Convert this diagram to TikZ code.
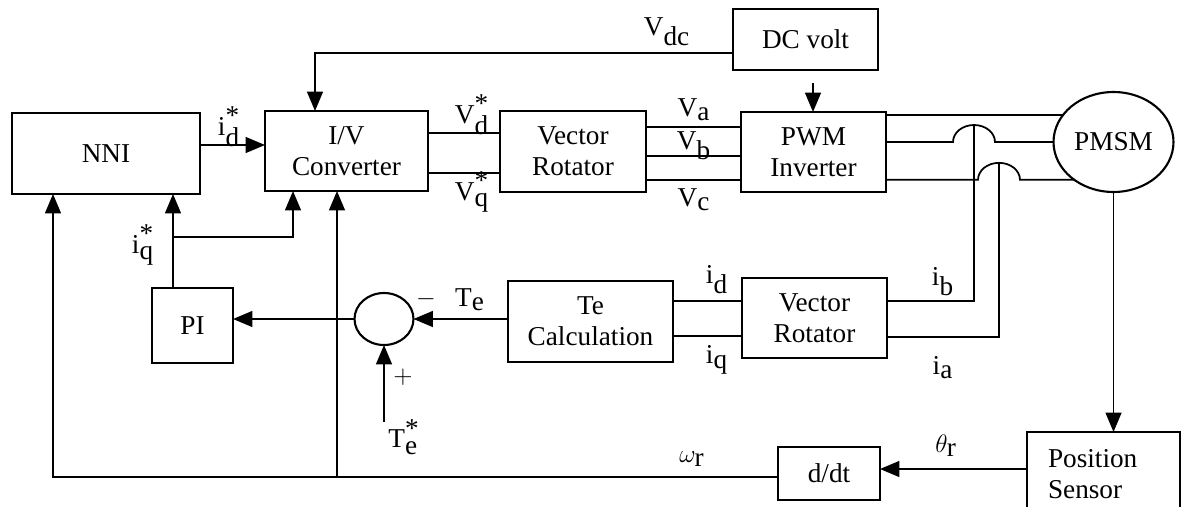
\documentclass[tikz,border=0pt]{standalone}
\usepackage{fontspec}
\setmainfont{Liberation Serif}
\usetikzlibrary{arrows.meta,shapes.geometric}
\newcommand{\starsig}[2]{$\textrm{#1}^{\textrm{*}}_{\textrm{#2}}$}
\newcommand{\plainsig}[2]{$\textrm{#1}_{\textrm{#2}}$}
\tikzset{>={Triangle[length=11pt,width=9pt]},
  block/.style={draw,line width=1.2pt,inner sep=0pt,outer sep=0pt,align=center},
  sig/.style={line width=1pt},
  lab/.style={inner sep=1pt}}

\begin{document}
\begin{tikzpicture}[x=0.02cm,y=-0.02cm,font=\fontsize{15.5}{17.5}\selectfont]
  \useasboundingbox (0,0) rectangle (1183,507);
  % blocks
  \node[block,minimum width=3.76cm,minimum height=1.62cm] (nni) at (106,153.5) {NNI};
  \node[block,minimum width=3.26cm,minimum height=1.6cm] (ivc) at (346.5,151) {I/V\\Converter};
  \node[block,minimum width=2.9cm,minimum height=1.22cm] (dcv) at (805.5,39.5) {DC volt};
  \node[block,minimum width=2.92cm,minimum height=1.62cm] (vrot) at (573,151.5) {Vector\\Rotator};
  \node[block,minimum width=2.9cm,minimum height=1.6cm] (pwm) at (813.5,152) {PWM\\Inverter};
  \node[block,ellipse,minimum width=2.4cm,minimum height=2cm] (pmsm) at (1113.5,142) {PMSM};
  \node[block,minimum width=2.9cm,minimum height=1.6cm] (crot) at (814.5,318) {Vector\\Rotator};
  \node[block,minimum width=3.3cm,minimum height=1.62cm] (tec) at (590.5,321.5) {Te\\Calculation};
  \node[block,ellipse,minimum width=1.18cm,minimum height=1.04cm] (sum) at (384,319) {};
  \node[block,minimum width=1.62cm,minimum height=1.5cm] (pi) at (192.5,325.5) {PI};
  \node[block,minimum width=2.04cm,minimum height=1.06cm] (ddt) at (829,473.5) {d/dt};
  \node[block,align=left,text width=2.22cm,minimum width=3.06cm,minimum height=1.68cm] (pos) at (1103.5,474) {Position\\Sensor};
  % forward path
  \draw[sig,->] (nni.east |- 0,145) -- (ivc.west |- 0,145);
  \draw[sig,->] (dcv.west |- 0,53) -| (315,0 |- ivc.north);
  \coordinate (dcin) at (813,83);
  \draw[sig,->] (dcin) -- (dcin |- pwm.north);
  \foreach \y in {133,173} \draw[sig] (ivc.east |- 0,\y) -- (vrot.west |- 0,\y);
  \foreach \y in {127,156,180} \draw[sig] (vrot.east |- 0,\y) -- (pwm.west |- 0,\y);
  % phases to the motor, with crossings
  \draw[sig] (pwm.east |- pmsm.152) -- (pmsm.152);
  \draw[sig] (pwm.east |- pmsm.west) -- (953,0 |- pmsm.west)
    arc[start angle=180,end angle=0,x radius=0.42cm,y radius=0.34cm] -- (pmsm.west);
  \draw[sig] (pwm.east |- pmsm.224) -- (978,0 |- pmsm.224)
    arc[start angle=180,end angle=0,x radius=0.42cm,y radius=0.34cm] -- (pmsm.224);
  \coordinate (bb) at (974,125);
  \coordinate (ba) at (999,163);
  \draw[sig] (bb) |- (crot.east |- 0,301);
  \draw[sig] (ba) |- (crot.east |- 0,337);
  % feedback
  \draw[sig,->] (pmsm.south) -- (pmsm.south |- pos.north);
  \draw[sig,->] (pos.west |- 0,469) -- (ddt.east |- 0,469);
  \draw[sig,->] (ddt.west |- 0,477) -| (53,0 |- nni.south);
  \coordinate (jw) at (337,477);
  \draw[sig,->] (jw) -- (jw |- ivc.south);
  \draw[sig,->] (pi.north -| 173,0) -- (173,0 |- nni.south);
  \coordinate (jq) at (173,237);
  \draw[sig,->] (jq) -| (293,0 |- ivc.south);
  \draw[sig,->] (sum.west) -- (sum.west -| pi.east);
  \draw[sig,->] (tec.west |- sum.east) -- (sum.east);
  \coordinate (tref) at (384,422);
  \draw[sig,->] (tref) -- (tref |- sum.south);
  \foreach \y in {301,336} \draw[sig] (tec.east |- 0,\y) -- (crot.west |- 0,\y);
  % labels
  \node[lab] (lid) at (229,127) {\starsig{i}{d}};
  \node[lab] (liq) at (143,245) {\starsig{i}{q}};
  \node[lab] (lvdc) at (667,32) {\plainsig{V}{dc}};
  \node[lab] (lvd) at (472,115) {\starsig{V}{d}};
  \node[lab] (lvq) at (472,192) {\starsig{V}{q}};
  \node[lab] (lva) at (694,110) {\plainsig{V}{a}};
  \node[lab] (lvb) at (694,146) {\plainsig{V}{b}};
  \node[lab] (lvc) at (694,200) {\plainsig{V}{c}};
  \node[lab] (lmin) at (426,299) {$-$};
  \node[lab] (lte) at (470,300) {\plainsig{T}{e}};
  \node[lab] (lplus) at (403,377) {$+$};
  \node[lab] (ltref) at (404,437) {\starsig{T}{e}};
  \node[lab] (lcd) at (717,280) {\plainsig{i}{d}};
  \node[lab] (lcq) at (717,360) {\plainsig{i}{q}};
  \node[lab] (lcb) at (943,282) {\plainsig{i}{b}};
  \node[lab] (lca) at (943,368) {\plainsig{i}{a}};
  \node[lab] (lth) at (946,446) {$\theta_{\textrm{r}}$};
  \node[lab] (lom) at (692,459) {$\omega_{\textrm{r}}$};
\end{tikzpicture}
\end{document}
